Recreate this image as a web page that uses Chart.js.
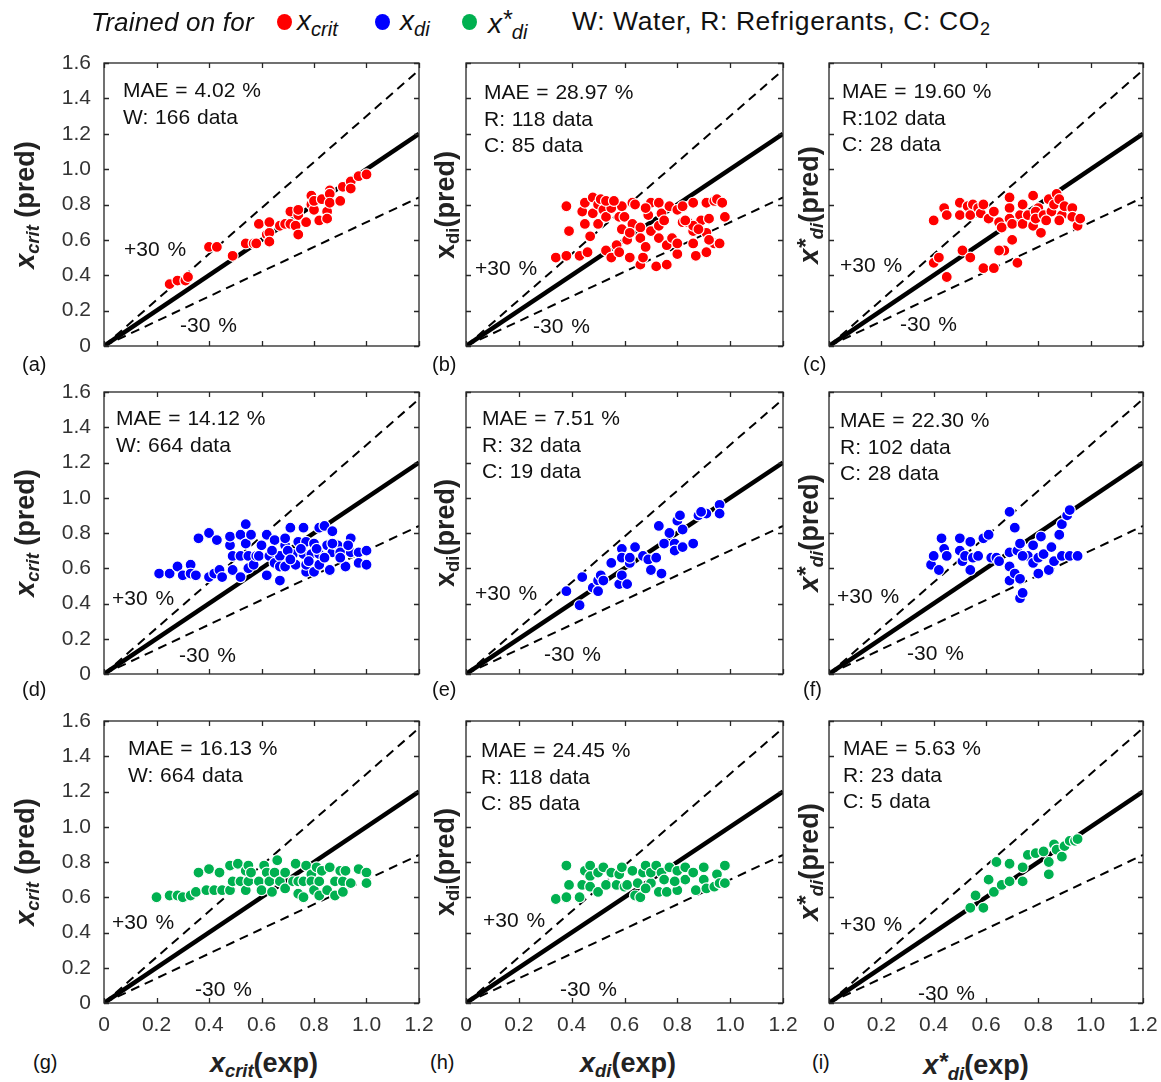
<!DOCTYPE html>
<html>
<head>
<meta charset="utf-8">
<script src="https://cdn.jsdelivr.net/npm/chart.js@4.4.1/dist/chart.umd.min.js"></script>
<style>
  body { margin: 0; background: #fff; width: 1161px; height: 1082px; position: relative; overflow: hidden;
         font-family: 'Liberation Sans', Arial, sans-serif; color: #111; }
  canvas { position: absolute; }
  .t { position: absolute; white-space: nowrap; line-height: 1; }
  .sb { font-size: 0.68em; vertical-align: -0.28em; }
  .sp { font-size: 0.9em; vertical-align: 0.18em; }
  .ttl { position: absolute; white-space: nowrap; line-height: 1; font-weight: bold; font-size: 27px; color: #222; }
  .dot { position: absolute; width: 15px; height: 16px; border-radius: 50%; }
</style>
</head>
<body>
<script>
// axis ticks
const xTickLabels = ['0', '0.2', '0.4', '0.6', '0.8', '1.0', '1.2'];
const yTickLabels = ['0', '0.2', '0.4', '0.6', '0.8', '1.0', '1.2', '1.4', '1.6'];

// parity reference lines: y = x, +30 %, -30 %
const lineX = [0, 1.2];
const perfectY = [0, 1.2];
const plus30Y = [0, 1.56];
const minus30Y = [0, 0.84];

const RED = '#ff0000', BLUE = '#0000ff', GREEN = '#00b050';

// (a) trained on x_crit, predicting x_crit
const ptsA = [[0.25,0.35],[0.28,0.37],[0.31,0.37],[0.32,0.39],[0.40,0.56],[0.43,0.56],[0.49,0.51],[0.54,0.58],
  [0.57,0.58],[0.58,0.58],[0.59,0.69],[0.63,0.70],[0.62,0.63],[0.63,0.64],[0.63,0.59],[0.67,0.68],[0.69,0.69],
  [0.71,0.69],[0.71,0.76],[0.73,0.68],[0.74,0.74],[0.74,0.63],[0.74,0.77],[0.77,0.70],[0.79,0.85],[0.79,0.80],
  [0.80,0.77],[0.80,0.82],[0.82,0.71],[0.83,0.83],[0.85,0.76],[0.85,0.72],[0.86,0.88],[0.86,0.86],[0.86,0.81],
  [0.90,0.82],[0.91,0.90],[0.94,0.93],[0.94,0.89],[0.97,0.96],[1.00,0.97]];
// (b) trained on x_crit, predicting x_di
const ptsB = [[0.38,0.79],[0.39,0.65],[0.34,0.50],[0.38,0.51],[0.43,0.51],[0.46,0.53],[0.47,0.62],[0.44,0.76],
  [0.45,0.81],[0.45,0.69],[0.48,0.75],[0.48,0.84],[0.50,0.69],[0.50,0.80],[0.52,0.77],[0.53,0.54],[0.53,0.73],
  [0.55,0.78],[0.55,0.50],[0.57,0.57],[0.58,0.53],[0.58,0.73],[0.59,0.66],[0.59,0.79],[0.60,0.73],[0.61,0.60],
  [0.62,0.50],[0.63,0.69],[0.63,0.81],[0.66,0.67],[0.66,0.46],[0.66,0.61],[0.67,0.50],[0.68,0.56],[0.69,0.74],
  [0.70,0.81],[0.70,0.65],[0.72,0.45],[0.73,0.68],[0.73,0.81],[0.73,0.61],[0.74,0.75],[0.75,0.71],[0.76,0.46],
  [0.76,0.57],[0.77,0.79],[0.78,0.61],[0.80,0.52],[0.80,0.58],[0.80,0.77],[0.82,0.79],[0.82,0.70],[0.86,0.81],
  [0.86,0.65],[0.86,0.58],[0.84,0.70],[0.87,0.51],[0.89,0.71],[0.91,0.64],[0.91,0.81],[0.91,0.53],[0.92,0.72],
  [0.94,0.82],[0.95,0.83],[0.94,0.58],[0.96,0.58],[0.97,0.81],[0.98,0.73],[0.86,0.68],[0.62,0.64],[0.51,0.83],
  [0.53,0.82],[0.56,0.82],[0.64,0.80],[0.68,0.78],[0.83,0.71],[0.88,0.66],[0.92,0.60]];
// (c) trained on x_crit, predicting x*_di
const ptsC = [[0.40,0.71],[0.44,0.78],[0.45,0.74],[0.50,0.81],[0.50,0.74],[0.53,0.79],[0.54,0.74],[0.55,0.80],
  [0.57,0.78],[0.58,0.75],[0.59,0.80],[0.61,0.72],[0.63,0.76],[0.65,0.70],[0.66,0.67],[0.69,0.84],[0.69,0.78],
  [0.69,0.72],[0.70,0.69],[0.73,0.74],[0.74,0.80],[0.74,0.69],[0.76,0.74],[0.78,0.85],[0.78,0.68],[0.80,0.78],
  [0.79,0.76],[0.79,0.72],[0.81,0.64],[0.82,0.74],[0.84,0.83],[0.85,0.76],[0.86,0.80],[0.87,0.86],[0.88,0.83],
  [0.89,0.74],[0.90,0.79],[0.93,0.78],[0.93,0.73],[0.95,0.68],[0.96,0.72],[0.88,0.71],[0.83,0.71],[0.70,0.60],
  [0.67,0.54],[0.65,0.54],[0.51,0.54],[0.54,0.50],[0.59,0.44],[0.63,0.44],[0.72,0.47],[0.40,0.47],[0.42,0.50],
  [0.45,0.39]];
// (d) trained on x_di, predicting x_crit
const ptsD = [[0.21,0.57],[0.25,0.57],[0.28,0.61],[0.30,0.56],[0.33,0.62],[0.33,0.57],[0.35,0.56],[0.36,0.77],
  [0.40,0.80],[0.40,0.55],[0.42,0.57],[0.43,0.76],[0.44,0.59],[0.45,0.55],[0.48,0.73],[0.48,0.78],[0.49,0.59],
  [0.49,0.67],[0.52,0.79],[0.52,0.55],[0.52,0.67],[0.54,0.74],[0.54,0.85],[0.55,0.60],[0.55,0.67],[0.56,0.79],
  [0.57,0.62],[0.58,0.67],[0.60,0.73],[0.59,0.67],[0.62,0.79],[0.62,0.56],[0.63,0.67],[0.65,0.76],[0.65,0.63],
  [0.67,0.67],[0.67,0.61],[0.67,0.53],[0.69,0.73],[0.69,0.77],[0.69,0.61],[0.71,0.83],[0.72,0.68],[0.73,0.62],
  [0.74,0.75],[0.76,0.68],[0.76,0.83],[0.77,0.58],[0.77,0.75],[0.77,0.62],[0.79,0.68],[0.80,0.58],[0.82,0.62],
  [0.82,0.83],[0.82,0.68],[0.84,0.84],[0.85,0.73],[0.86,0.59],[0.87,0.69],[0.87,0.81],[0.89,0.73],[0.90,0.69],
  [0.92,0.61],[0.94,0.77],[0.94,0.69],[0.97,0.69],[0.97,0.63],[1.00,0.62],[1.00,0.70],[0.87,0.74],[0.80,0.74],
  [0.64,0.70],[0.70,0.70],[0.75,0.71],[0.81,0.71],[0.84,0.66],[0.90,0.66],[0.93,0.73],[0.71,0.65],[0.78,0.64]];
// (e) trained on x_di, predicting x_di
const ptsE = [[0.38,0.47],[0.43,0.39],[0.44,0.55],[0.48,0.49],[0.50,0.53],[0.50,0.47],[0.51,0.56],[0.52,0.53],
  [0.55,0.63],[0.58,0.51],[0.59,0.71],[0.59,0.56],[0.59,0.66],[0.61,0.51],[0.62,0.63],[0.62,0.66],[0.64,0.72],
  [0.67,0.67],[0.69,0.65],[0.70,0.59],[0.72,0.66],[0.73,0.84],[0.74,0.57],[0.75,0.74],[0.77,0.80],[0.79,0.74],
  [0.79,0.70],[0.80,0.87],[0.81,0.90],[0.82,0.72],[0.82,0.82],[0.86,0.74],[0.88,0.90],[0.91,0.91],[0.89,0.92],
  [0.96,0.96],[0.96,0.91]];
// (f) trained on x_di, predicting x*_di
const ptsF = [[0.39,0.62],[0.40,0.67],[0.42,0.59],[0.43,0.77],[0.44,0.71],[0.45,0.67],[0.50,0.77],[0.50,0.70],
  [0.51,0.64],[0.52,0.67],[0.54,0.75],[0.54,0.59],[0.55,0.66],[0.57,0.67],[0.59,0.77],[0.61,0.79],[0.62,0.66],
  [0.64,0.66],[0.65,0.64],[0.69,0.92],[0.69,0.69],[0.69,0.61],[0.69,0.53],[0.71,0.57],[0.71,0.83],[0.72,0.70],
  [0.73,0.74],[0.73,0.54],[0.73,0.43],[0.74,0.46],[0.76,0.67],[0.78,0.73],[0.78,0.63],[0.80,0.66],[0.80,0.57],
  [0.81,0.78],[0.82,0.68],[0.84,0.59],[0.85,0.72],[0.86,0.64],[0.88,0.79],[0.89,0.67],[0.89,0.85],[0.91,0.90],
  [0.92,0.93],[0.92,0.67],[0.95,0.67],[0.74,0.67]];
// (g) trained on x*_di, predicting x_crit
const ptsG = [[0.20,0.60],[0.25,0.61],[0.28,0.61],[0.30,0.60],[0.33,0.61],[0.35,0.63],[0.36,0.74],[0.39,0.64],
  [0.40,0.76],[0.42,0.64],[0.44,0.74],[0.45,0.64],[0.48,0.78],[0.48,0.64],[0.49,0.69],[0.51,0.79],[0.52,0.69],
  [0.54,0.75],[0.54,0.64],[0.55,0.69],[0.55,0.78],[0.56,0.74],[0.59,0.69],[0.60,0.64],[0.61,0.78],[0.62,0.74],
  [0.63,0.69],[0.64,0.63],[0.65,0.74],[0.66,0.81],[0.67,0.69],[0.69,0.74],[0.69,0.65],[0.72,0.69],[0.73,0.79],
  [0.74,0.62],[0.74,0.69],[0.76,0.60],[0.76,0.69],[0.77,0.78],[0.79,0.73],[0.79,0.69],[0.80,0.64],[0.81,0.77],
  [0.82,0.69],[0.82,0.61],[0.83,0.75],[0.85,0.64],[0.86,0.77],[0.88,0.61],[0.88,0.69],[0.90,0.75],[0.91,0.69],
  [0.92,0.75],[0.91,0.63],[0.94,0.68],[0.97,0.76],[1.00,0.74],[1.00,0.68]];
// (h) trained on x*_di, predicting x_di
const ptsH = [[0.34,0.59],[0.38,0.60],[0.38,0.78],[0.39,0.67],[0.43,0.60],[0.44,0.67],[0.45,0.75],[0.47,0.78],
  [0.47,0.72],[0.47,0.66],[0.50,0.74],[0.50,0.63],[0.52,0.77],[0.53,0.67],[0.55,0.74],[0.57,0.67],[0.58,0.73],
  [0.59,0.77],[0.60,0.66],[0.61,0.67],[0.63,0.75],[0.64,0.61],[0.65,0.68],[0.66,0.60],[0.67,0.74],[0.68,0.78],
  [0.70,0.68],[0.70,0.74],[0.72,0.78],[0.73,0.63],[0.74,0.74],[0.75,0.70],[0.76,0.63],[0.77,0.77],[0.80,0.75],
  [0.80,0.64],[0.83,0.77],[0.83,0.70],[0.86,0.74],[0.87,0.64],[0.90,0.77],[0.90,0.70],[0.91,0.65],[0.94,0.66],
  [0.95,0.73],[0.96,0.68],[0.98,0.78],[0.98,0.68],[0.79,0.69],[0.68,0.65]];
// (i) trained on x*_di, predicting x*_di
const ptsI = [[0.54,0.54],[0.56,0.61],[0.59,0.54],[0.61,0.70],[0.63,0.63],[0.64,0.80],[0.66,0.67],[0.69,0.79],
  [0.69,0.69],[0.74,0.77],[0.74,0.69],[0.76,0.84],[0.79,0.85],[0.82,0.86],[0.84,0.80],[0.84,0.73],[0.86,0.90],
  [0.87,0.87],[0.89,0.83],[0.90,0.89],[0.92,0.92],[0.94,0.92],[0.95,0.93]];

const notesA = ['MAE = 4.02 %', 'W: 166 data'];
const notesB = ['MAE = 28.97 %', 'R: 118 data', 'C: 85 data'];
const notesC = ['MAE = 19.60 %', 'R:102 data', 'C: 28 data'];
const notesD = ['MAE = 14.12 %', 'W: 664 data'];
const notesE = ['MAE = 7.51 %', 'R: 32 data', 'C: 19 data'];
const notesF = ['MAE = 22.30 %', 'R: 102 data', 'C: 28 data'];
const notesG = ['MAE = 16.13 %', 'W: 664 data'];
const notesH = ['MAE = 24.45 %', 'R: 118 data', 'C: 85 data'];
const notesI = ['MAE = 5.63 %', 'R: 23 data', 'C: 5 data'];

// layout of the 3x3 grid (plot areas in page pixels)
const cols = [{ left: 104, w: 315 }, { left: 466, w: 317 }, { left: 829, w: 314 }];
const rows = [{ top: 63, h: 283 }, { top: 392, h: 282 }, { top: 721, h: 282 }];

const panels = [
  { id: 'a', r: 0, c: 0, pts: ptsA, color: RED, notes: notesA, note: [123, 97], plus: [124, 256], minus: [180, 332], tag: [22, 371] },
  { id: 'b', r: 0, c: 1, pts: ptsB, color: RED, notes: notesB, note: [484, 99], plus: [475, 275], minus: [533, 333], tag: [432, 371] },
  { id: 'c', r: 0, c: 2, pts: ptsC, color: RED, notes: notesC, note: [842, 98], plus: [840, 272], minus: [900, 331], tag: [803, 371] },
  { id: 'd', r: 1, c: 0, pts: ptsD, color: BLUE, notes: notesD, note: [116, 425], plus: [112, 605], minus: [179, 662], tag: [22, 696] },
  { id: 'e', r: 1, c: 1, pts: ptsE, color: BLUE, notes: notesE, note: [482, 425], plus: [475, 600], minus: [544, 661], tag: [432, 696] },
  { id: 'f', r: 1, c: 2, pts: ptsF, color: BLUE, notes: notesF, note: [840, 427], plus: [837, 603], minus: [907, 660], tag: [803, 696] },
  { id: 'g', r: 2, c: 0, pts: ptsG, color: GREEN, notes: notesG, note: [128, 755], plus: [112, 929], minus: [195, 996], tag: [33, 1069] },
  { id: 'h', r: 2, c: 1, pts: ptsH, color: GREEN, notes: notesH, note: [481, 757], plus: [483, 927], minus: [560, 996], tag: [430, 1069] },
  { id: 'i', r: 2, c: 2, pts: ptsI, color: GREEN, notes: notesI, note: [843, 755], plus: [840, 931], minus: [918, 1000], tag: [812, 1069] }
];

const yTitles = [
  '<i>x</i><span class="sb"><i>crit</i></span> (pred)',
  'x<span class="sb">di</span>(pred)',
  '<i>x</i><span class="sp"><i>*</i></span><span class="sb"><i>di</i></span>(pred)'
];
const xTitles = [
  '<i>x</i><span class="sb"><i>crit</i></span>(exp)',
  '<i>x</i><span class="sb"><i>di</i></span>(exp)',
  '<i>x</i><span class="sp"><i>*</i></span><span class="sb"><i>di</i></span>(exp)'
];

Chart.defaults.font.family = "'Liberation Sans', Arial, sans-serif";
Chart.defaults.font.size = 21;
Chart.defaults.color = '#333';

// box with inward ticks on all four sides, taken from the scales
const framePlugin = {
  id: 'frame',
  afterDraw(chart) {
    const { ctx, scales: { x, y } } = chart;
    const L = x.getPixelForValue(x.min), R = x.getPixelForValue(x.max);
    const T = y.getPixelForValue(y.max), B = y.getPixelForValue(y.min);
    ctx.save();
    ctx.strokeStyle = '#262626';
    ctx.lineWidth = 1.3;
    ctx.strokeRect(L, T, R - L, B - T);
    ctx.beginPath();
    x.ticks.forEach(t => {
      const px = Math.round(x.getPixelForValue(t.value)) + 0.5;
      ctx.moveTo(px, B); ctx.lineTo(px, B - 5);
      ctx.moveTo(px, T); ctx.lineTo(px, T + 5);
    });
    y.ticks.forEach(t => {
      const py = Math.round(y.getPixelForValue(t.value)) + 0.5;
      ctx.moveTo(L, py); ctx.lineTo(L + 5, py);
      ctx.moveTo(R, py); ctx.lineTo(R - 5, py);
    });
    ctx.stroke();
    ctx.restore();
  }
};

function addText(html, left, baseline, size, extra) {
  const d = document.createElement('div');
  d.className = 't';
  d.style.left = left + 'px';
  d.style.top = (baseline - 0.8465 * size) + 'px';
  d.style.fontSize = size + 'px';
  if (extra) Object.assign(d.style, extra);
  d.innerHTML = html;
  document.body.appendChild(d);
  return d;
}

function refLine(ys, width, dash) {
  return {
    data: lineX.map((x, i) => ({ x, y: ys[i] })),
    showLine: true, borderColor: '#000', borderWidth: width, borderDash: dash,
    pointRadius: 0, fill: false
  };
}

function noPad(s) {
  s.paddingTop = 0; s.paddingBottom = 0; s.paddingLeft = 0; s.paddingRight = 0;
}

panels.forEach(p => {
  const col = cols[p.c], row = rows[p.r];
  const yw = p.c === 0 ? 60 : 8;
  const xh = p.r === 2 ? 40 : 8;
  const padTop = 14, padRight = 18;
  const cv = document.createElement('canvas');
  cv.width = yw + col.w + padRight;
  cv.height = padTop + row.h + xh;
  cv.style.width = cv.width + 'px';
  cv.style.height = cv.height + 'px';
  document.body.appendChild(cv);

  const chart = new Chart(cv, {
    type: 'scatter',
    data: {
      datasets: [
        {
          data: p.pts.map(q => ({ x: q[0], y: q[1] })),
          backgroundColor: p.color, borderColor: '#fff', borderWidth: 1.2,
          pointRadius: 5.5
        },
        refLine(perfectY, 4.5, []),
        refLine(plus30Y, 2, [9, 6]),
        refLine(minus30Y, 2, [9, 6])
      ]
    },
    options: {
      responsive: false,
      animation: false,
      devicePixelRatio: 1,
      layout: { padding: { top: padTop, right: padRight, left: 0, bottom: 0 } },
      plugins: { legend: { display: false }, tooltip: { enabled: false } },
      scales: {
        x: {
          type: 'linear', min: 0, max: 1.2,
          grid: { display: false, drawTicks: false }, border: { display: false },
          ticks: {
            display: p.r === 2, stepSize: 0.2, padding: 10, autoSkip: false, maxRotation: 0,
            callback: v => xTickLabels[Math.round(v / 0.2)]
          },
          afterFit: s => { s.height = xh; noPad(s); }
        },
        y: {
          type: 'linear', min: 0, max: 1.6,
          grid: { display: false, drawTicks: false }, border: { display: false },
          ticks: {
            display: p.c === 0, stepSize: 0.2, padding: 13, autoSkip: false,
            callback: v => yTickLabels[Math.round(v / 0.2)]
          },
          afterFit: s => { s.width = yw; noPad(s); }
        }
      }
    },
    plugins: [framePlugin]
  });

  // make the scale span exactly the plot box, then place the canvas on it
  const sx = chart.scales.x, sy = chart.scales.y;
  const dw = col.w - (sx.getPixelForValue(1.2) - sx.getPixelForValue(0));
  const dh = row.h - (sy.getPixelForValue(0) - sy.getPixelForValue(1.6));
  if (Math.abs(dw) > 0.5 || Math.abs(dh) > 0.5) chart.resize(cv.width + dw, cv.height + dh);
  cv.style.left = (col.left - chart.scales.x.getPixelForValue(0)) + 'px';
  cv.style.top = (row.top - chart.scales.y.getPixelForValue(1.6)) + 'px';

  p.notes.forEach((n, i) => addText(n, p.note[0], p.note[1] + i * 26.5, 21, { wordSpacing: '1px' }));
  addText('+30 %', p.plus[0], p.plus[1], 21, { wordSpacing: '2px' });
  addText('-30 %', p.minus[0], p.minus[1], 21, { wordSpacing: '2px' });
  addText('(' + p.id + ')', p.tag[0], p.tag[1], 20);
});

// axis titles
const yTitleX = [27, 447, 810];
rows.forEach(row => {
  yTitleX.forEach((cx, c) => {
    const d = document.createElement('div');
    d.className = 'ttl';
    d.style.left = cx + 'px';
    d.style.top = (row.top + row.h / 2) + 'px';
    d.style.transform = 'translate(-50%, -50%) rotate(-90deg)';
    d.innerHTML = yTitles[c];
    document.body.appendChild(d);
  });
});
const xTitleX = [264, 628, 976];
xTitleX.forEach((cx, c) => {
  const d = document.createElement('div');
  d.className = 'ttl';
  d.style.left = cx + 'px';
  d.style.top = (1073 - 0.8465 * 27) + 'px';
  d.style.transform = 'translateX(-50%)';
  d.innerHTML = xTitles[c];
  document.body.appendChild(d);
});

// header legend
addText('<i>Trained on for</i>', 91, 31, 26, { letterSpacing: '0.2px' });
[[RED, 284], [BLUE, 382], [GREEN, 469]].forEach(([clr, cx]) => {
  const d = document.createElement('div');
  d.className = 'dot';
  d.style.background = clr;
  d.style.left = (cx - 7.5) + 'px';
  d.style.top = '14px';
  document.body.appendChild(d);
});
addText('<i>x<span class="sb" style="font-size:0.72em">crit</span></i>', 297, 31, 28);
addText('<i>x<span class="sb" style="font-size:0.72em">di</span></i>', 400, 31, 28);
addText('<i>x<span class="sp">*</span><span class="sb" style="font-size:0.72em">di</span></i>', 488, 31, 28);
addText('W: Water, R: Refrigerants, C: CO<span class="sb">2</span>', 572, 30, 26.5, { letterSpacing: '0.6px' });
</script>
</body>
</html>
